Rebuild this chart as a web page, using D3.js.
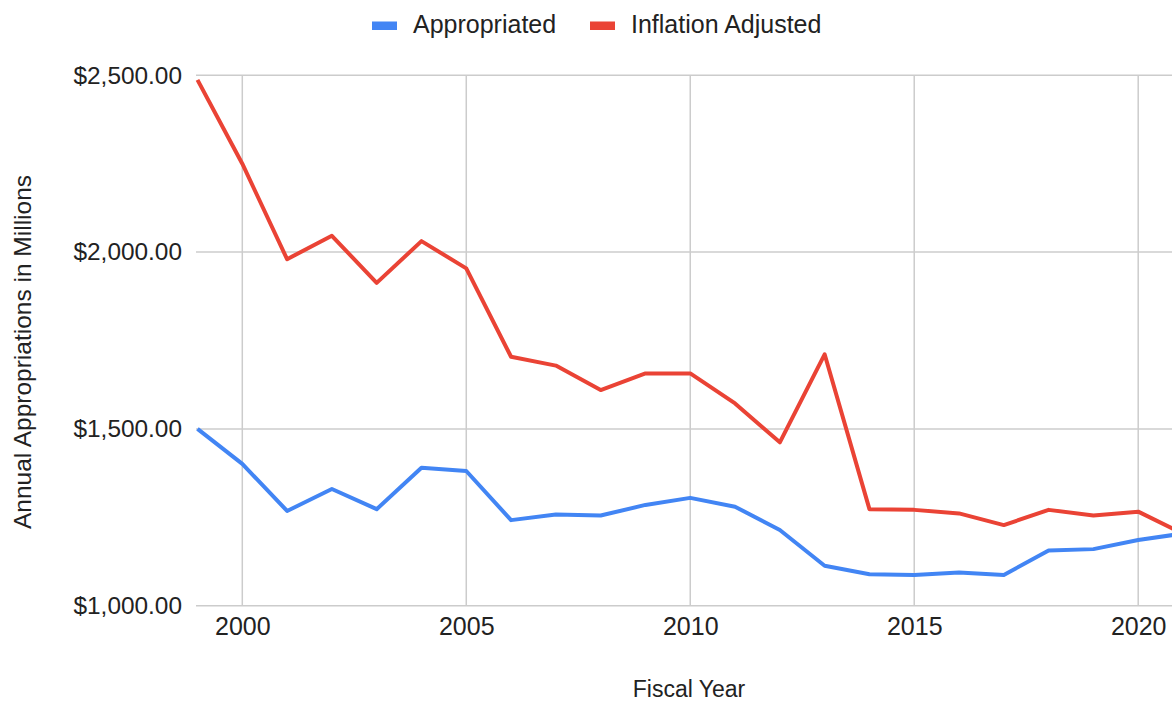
<!DOCTYPE html>
<html>
<head>
<meta charset="utf-8">
<script src="https://cdn.jsdelivr.net/npm/d3@7"></script>
<style>
  body { margin: 0; background: #fff; }
  svg { display: block; font-family: "Liberation Sans", Arial, sans-serif; }
</style>
</head>
<body>
<script>
const years = [1999, 2000, 2001, 2002, 2003, 2004, 2005, 2006, 2007, 2008, 2009, 2010,
  2011, 2012, 2013, 2014, 2015, 2016, 2017, 2018, 2019, 2020, 2021];
const appropriated = [1500, 1401, 1268, 1330, 1273, 1390, 1381, 1242, 1258, 1255, 1285, 1305,
  1280, 1214, 1113, 1089, 1087, 1094, 1087, 1156, 1160, 1186, 1204];
const inflationAdjusted = [2487, 2250, 1980, 2046, 1913, 2031, 1954, 1704, 1679, 1610, 1657, 1657,
  1572, 1462, 1711, 1273, 1271, 1261, 1228, 1271, 1255, 1266, 1204];
const seriesNames = ["Appropriated", "Inflation Adjusted"];
const seriesColors = ["#4285f4", "#ea4335"];
const yTicks = [1000, 1500, 2000, 2500];
const xTicks = [2000, 2005, 2010, 2015, 2020];

const width = 1172;
const height = 702;

const x = d3.scaleLinear().domain([1999, 2021]).range([197.5, 1183]);
const y = d3.scaleLinear().domain([1000, 2500]).range([605.7, 75.3]);

const svg = d3.select("body").append("svg")
    .attr("width", width)
    .attr("height", height);

// grid lines
svg.append("g")
  .selectAll("line")
  .data(xTicks)
  .enter()
  .append("line")
    .attr("x1", d => x(d)).attr("x2", d => x(d))
    .attr("y1", y(2500)).attr("y2", y(1000))
    .attr("stroke", "#cccccc")
    .attr("stroke-width", 1.5);

svg.append("g")
  .selectAll("line")
  .data(yTicks)
  .enter()
  .append("line")
    .attr("x1", x(1999) - 1.5).attr("x2", width)
    .attr("y1", d => y(d)).attr("y2", d => y(d))
    .attr("stroke", "#cccccc")
    .attr("stroke-width", 1.5);

// axes labels
const fmt = d3.format("$,.2f");
const yAxis = svg.append("g")
    .attr("transform", `translate(${x(1999) - 1.5},0)`)
    .call(d3.axisLeft(y).tickValues(yTicks).tickFormat(fmt).tickSize(0).tickPadding(14));
yAxis.select(".domain").remove();
yAxis.selectAll("text")
    .attr("fill", "#222")
    .style("font-size", "24.4px")
    .style("font-family", "Liberation Sans, Arial, sans-serif");

const xAxis = svg.append("g")
    .attr("transform", `translate(0,${y(1000)})`)
    .call(d3.axisBottom(x).tickValues(xTicks).tickFormat(d3.format("d")).tickSize(0).tickPadding(12));
xAxis.select(".domain").remove();
xAxis.selectAll("text")
    .attr("fill", "#222")
    .style("font-size", "25px")
    .style("font-family", "Liberation Sans, Arial, sans-serif");

// lines
const line = d3.line()
    .x((d, i) => x(years[i]))
    .y(d => y(d));

[appropriated, inflationAdjusted].forEach((vals, i) => {
  svg.append("path")
      .datum(vals)
      .attr("d", line)
      .attr("fill", "none")
      .attr("stroke", seriesColors[i])
      .attr("stroke-width", 4)
      .attr("stroke-linejoin", "round");
});

// axis titles
svg.append("text")
    .attr("x", 689)
    .attr("y", 697)
    .attr("text-anchor", "middle")
    .attr("fill", "#222")
    .style("font-size", "23px")
    .text("Fiscal Year");

svg.append("text")
    .attr("transform", "translate(31,352) rotate(-90)")
    .attr("text-anchor", "middle")
    .attr("fill", "#222")
    .style("font-size", "24.5px")
    .text("Annual Appropriations in Millions");

// legend
const legendX = [372, 590];
const legend = svg.append("g")
  .selectAll("g")
  .data(seriesNames)
  .enter()
  .append("g")
    .attr("transform", (d, i) => `translate(${legendX[i]},0)`);

legend.append("rect")
    .attr("x", 0).attr("y", 21.5)
    .attr("width", 25).attr("height", 8.5)
    .attr("fill", (d, i) => seriesColors[i]);

legend.append("text")
    .attr("x", 41)
    .attr("y", 33)
    .attr("fill", "#222")
    .style("font-size", "25px")
    .text(d => d);
</script>
</body>
</html>
